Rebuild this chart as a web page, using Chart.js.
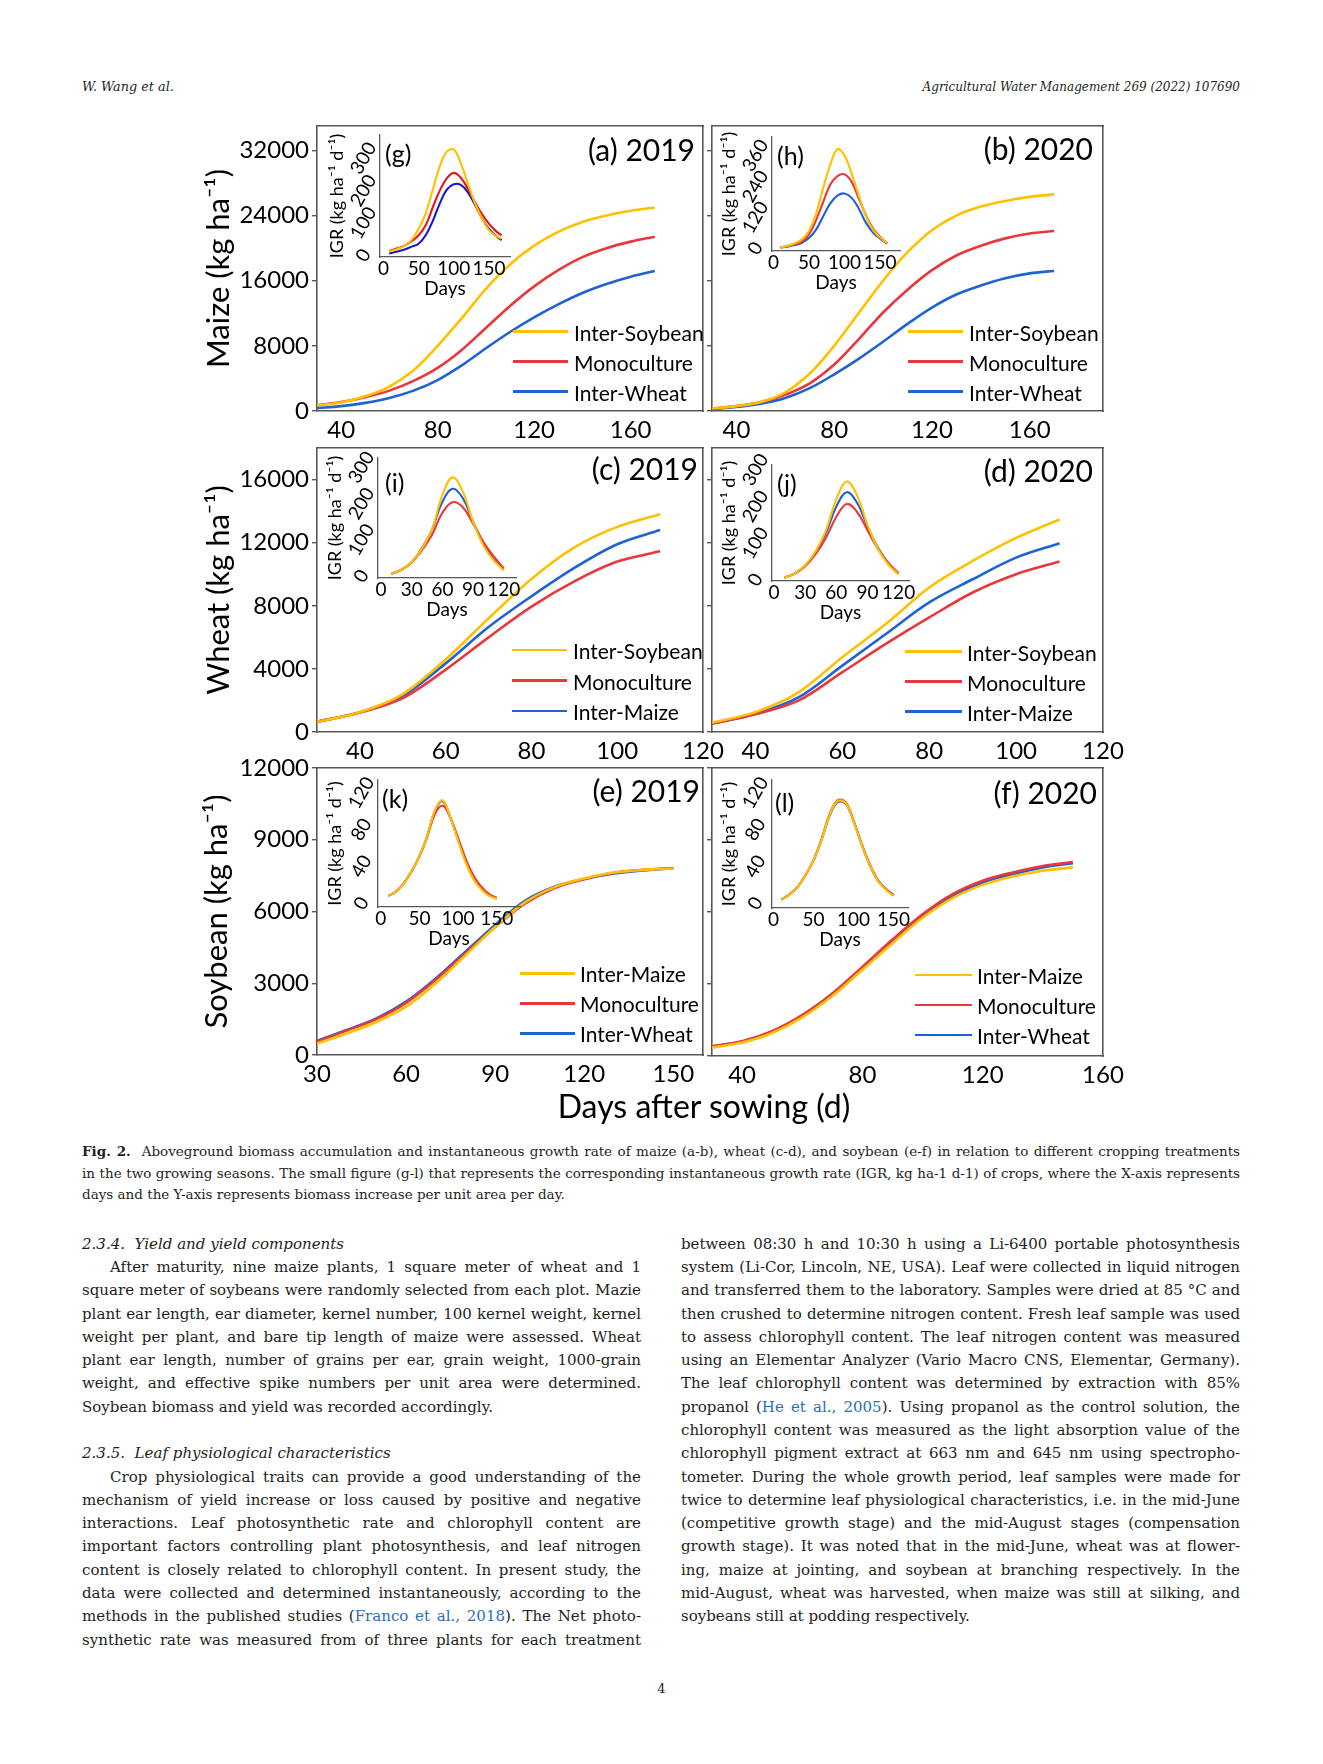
<!DOCTYPE html>
<html><head><meta charset="utf-8">
<script src="https://cdn.jsdelivr.net/npm/chart.js@4.4.1/dist/chart.umd.min.js"></script>
<style>
html,body{margin:0;padding:0;background:#fff;}
#page{position:relative;width:1323px;height:1764px;overflow:hidden;background:#fff;}
.t{position:absolute;white-space:nowrap;}
.fig{font-family:Lato,'DejaVu Sans',sans-serif;color:#000;}
.serif{font-family:'DejaVu Serif','Liberation Serif',serif;color:#231f20;}
.lk{color:#2a6ebb;}
</style></head>
<body><div id="page"></div>
<script>
// ---------------- DATA ----------------
const maizeDays = [30,40,50,60,70,80,90,100,110,120,130,140,150,160,170];
const maize2019InterSoybean = [700,1050,1800,3000,5000,8000,11400,15000,18000,20300,22000,23200,24000,24600,25000];
const maize2019Monoculture  = [700,1100,1700,2500,3700,5300,7500,10200,12900,15300,17300,18900,20000,20800,21400];
const maize2019InterWheat   = [350,600,1000,1600,2500,3800,5600,7700,9700,11500,13100,14500,15600,16500,17200];
const maize2020InterSoybean = [300,600,1100,2300,4600,8000,12000,16000,19500,22200,24000,25100,25800,26300,26600];
const maize2020Monoculture  = [300,600,1100,2000,3400,5700,8800,12100,14900,17300,19100,20300,21200,21800,22100];
const maize2020InterWheat   = [250,500,900,1600,2800,4500,6400,8500,10700,12700,14300,15400,16300,16900,17200];

const wheatDays = [30,40,50,60,70,80,90,100,110];
const wheat2019InterSoybean = [650,1250,2400,4600,7200,9700,11700,13000,13800];
const wheat2019Monoculture  = [650,1230,2150,3950,6000,7950,9550,10800,11450];
const wheat2019InterMaize   = [650,1250,2300,4350,6650,8600,10400,11900,12800];
const wheat2020InterSoybean = [590,1260,2530,4740,6840,9160,10840,12300,13470];
const wheat2020Monoculture  = [530,1120,2000,3790,5580,7260,8840,10000,10800];
const wheat2020InterMaize   = [530,1160,2210,4210,6210,8210,9680,11050,11960];

const soyDays = [30,40,50,60,70,80,90,100,110,120,130,140,150];
const soy2019InterMaize   = [480,900,1380,2020,3000,4170,5350,6380,7020,7380,7630,7740,7800];
const soy2019Monoculture  = [560,1020,1500,2180,3150,4250,5350,6330,6980,7350,7620,7740,7820];
const soy2019InterWheat   = [590,1050,1530,2230,3200,4320,5440,6450,7040,7360,7590,7720,7810];
const soy2020InterMaize   = [350,560,960,1610,2500,3590,4700,5760,6580,7130,7480,7720,7860];
const soy2020Monoculture  = [400,610,1030,1700,2600,3710,4850,5900,6740,7300,7650,7920,8080];
const soy2020InterWheat   = [390,600,1020,1690,2580,3670,4790,5830,6670,7230,7580,7860,8030];

// instantaneous growth rate (insets)
const igrMaize2019Days = [8,20,30,40,50,60,70,80,90,100,110,120,130,140,150,160,168];
const igrMaize2019InterSoybean = [12,20,30,48,83,130,202,275,320,327,285,222,162,115,78,60,52];
const igrMaize2019Monoculture  = [13,22,30,44,62,93,148,200,238,255,240,206,165,128,98,75,62];
const igrMaize2019InterWheat   = [6,12,18,27,36,62,106,160,203,220,218,195,157,115,82,60,47];

const igrMaize2020Days = [10,20,30,40,50,60,70,80,90,100,110,120,130,140,150,160];
const igrMaize2020InterSoybean = [4,10,20,35,68,135,235,325,385,360,290,206,125,72,42,20];
const igrMaize2020Monoculture  = [4,9,16,26,54,110,180,248,280,287,258,194,129,77,45,19];
const igrMaize2020InterWheat   = [3,7,13,22,40,73,125,175,205,213,196,155,100,62,38,19];

const igrWheatDays = [10,20,30,40,50,60,70,80,90,100,110,120];
const igrWheat2019InterSoybean = [6,18,39,76,131,224,273,233,150,85,44,16];
const igrWheat2019Monoculture  = [6,18,38,72,115,175,204,190,145,95,55,22];
const igrWheat2019InterMaize   = [6,18,39,78,130,205,241,215,150,92,50,20];
const igrWheat2020InterSoybean = [6,18,40,78,135,220,268,230,150,85,42,15];
const igrWheat2020Monoculture  = [6,17,37,70,115,172,207,185,135,85,46,18];
const igrWheat2020InterMaize   = [6,18,39,76,128,200,239,210,145,88,46,17];

const igrSoyDays = [10,20,30,40,50,60,70,80,90,100,110,120,130,140,150];
const igrSoy2019InterMaize  = [8,13,22,35,51,73,101,112,93,68,44,26,15,8,5];
const igrSoy2019Monoculture = [8,13,22,35,51,72,97,106,93,71,48,30,18,10,6];
const igrSoy2019InterWheat  = [8,13,22,35,51,73,100,111,93,69,45,27,16,9,5];
const igrSoy2020InterMaize  = [4,10,18,31,47,69,96,111,109,89,64,42,25,15,8];
const igrSoy2020Monoculture = [4,10,18,31,47,70,97,112,110,90,65,43,26,16,9];
const igrSoy2020InterWheat  = [4,10,18,31,47,69,95,110,108,89,64,42,25,16,9];

// tick labels
const maizeYTicks = [0,8000,16000,24000,32000];
const wheatYTicks = [0,4000,8000,12000,16000];
const soyYTicks = [0,3000,6000,9000,12000];
const maizeXTicks = [40,80,120,160];
const wheatXTicks = [40,60,80,100,120];
const soy2019XTicks = [30,60,90,120,150];
const soy2020XTicks = [40,80,120,160];
const igrXTicks150 = [0,50,100,150];
const igrXTicks120 = [0,30,60,90,120];
const igrMaize2019YTicks = [0,100,200,300];
const igrMaize2020YTicks = [0,120,240,360];
const igrWheatYTicks = [0,100,200,300];
const igrSoyYTicks = [0,40,80,120];

// ---------------- RENDERING ----------------
const page = document.getElementById('page');
const FIG_FONT = "Lato, 'DejaVu Sans', sans-serif";
const AXIS = '#575757';
const YEL = '#FFC000', RED = '#E8383D', BLU = '#1F62D2';
const RED_G = '#E8141E', BLU_G = '#1818C8';

function mkCanvas(left, top, w, h){
  const c = document.createElement('canvas');
  c.width = w; c.height = h;
  Object.assign(c.style, {position:'absolute', left:left+'px', top:top+'px', width:w+'px', height:h+'px'});
  page.appendChild(c);
  return c;
}
function setTicks(arr){ return s => { s.ticks = arr.map(v => ({value:v})); }; }

function mainPanel(cfg){
  const L=Math.round(cfg.L), T=Math.round(cfg.T), R=Math.round(cfg.R), B=Math.round(cfg.B);
  const padL=cfg.padL, padT=22, padR=32, padB=45;
  const left=L-padL, top=T-padT, w=R-L+padL+padR, h=B-T+padT+padB;
  const cv = mkCanvas(left, top, w, h);
  const tickFont = {family:FIG_FONT, size:24};
  const sideScale = (pos) => ({
    type:'linear', position:pos,
    min: pos==='top'?cfg.xMin:cfg.yMin, max: pos==='top'?cfg.xMax:cfg.yMax,
    ticks:{display:false}, grid:{display:false, drawTicks:false},
    border:{display:true, color:AXIS, width:1.6},
    afterFit: s => { if (pos==='top') s.height=0; else s.width=0; }
  });
  new Chart(cv, {
    type:'line',
    data:{datasets: cfg.series.map(s => ({
      label:s.label,
      data: cfg.days.map((d,i)=>({x:d, y:s.values[i]})),
      borderColor:s.color, backgroundColor:s.color, borderWidth:2.6,
      pointRadius:0, fill:false, cubicInterpolationMode:'monotone'
    }))},
    options:{
      responsive:false, animation:false, devicePixelRatio:1, events:[],
      layout:{padding:{left:0, top:padT, right:padR, bottom:0}, autoPadding:false},
      plugins:{legend:{display:false}, tooltip:{enabled:false}, title:{display:false}},
      scales:{
        x:{type:'linear', position:'bottom', min:cfg.xMin, max:cfg.xMax,
           afterBuildTicks:setTicks(cfg.xTicks),
           afterFit: s => { s.height = padB; },
           grid:{display:false, drawTicks:false},
           border:{display:true, color:AXIS, width:1.6},
           ticks:{font:tickFont, color:'#000', padding:5, maxRotation:0, minRotation:0, autoSkip:false, callback:v=>String(v)}},
        y:{type:'linear', position:'left', min:cfg.yMin, max:cfg.yMax,
           afterBuildTicks:setTicks(cfg.yTicks),
           afterFit: s => { s.width = padL; },
           grid:{display:true, drawOnChartArea:false, drawTicks:true, tickLength:5, color:AXIS, lineWidth:1.4},
           border:{display:true, color:AXIS, width:1.6},
           ticks:{display:cfg.showY, font:tickFont, color:'#000', padding:3, autoSkip:false, callback:v=>String(v)},
           title:{display:!!cfg.yTitle, text:cfg.yTitle||'', font:{family:FIG_FONT, size:31}, color:'#000', padding:{top:cfg.titlePad||0, bottom:0}}},
        x2: sideScale('top'),
        y2: sideScale('right')
      }
    }
  });
}

function insetPanel(cfg){
  const L=Math.round(cfg.L), T=Math.round(cfg.T), R=Math.round(cfg.R), B=Math.round(cfg.B);
  const padL=56, padT=12, padR=26, padB=46;
  const left=L-padL, top=T-padT, w=R-L+padL+padR, h=B-T+padT+padB;
  const cv = mkCanvas(left, top, w, h);
  const tf = {family:FIG_FONT, size:19};
  new Chart(cv, {
    type:'line',
    data:{datasets: cfg.series.map(s => ({
      label:s.label,
      data: cfg.days.map((d,i)=>({x:d, y:s.values[i]})),
      borderColor:s.color, backgroundColor:s.color, borderWidth:2.1,
      pointRadius:0, fill:false, tension:0.4
    }))},
    options:{
      responsive:false, animation:false, devicePixelRatio:1, events:[],
      layout:{padding:{left:0, top:padT, right:padR, bottom:0}, autoPadding:false},
      plugins:{legend:{display:false}, tooltip:{enabled:false}},
      scales:{
        x:{type:'linear', position:'bottom', min:cfg.xMin, max:cfg.xMax,
           afterBuildTicks:setTicks(cfg.xTicks),
           afterFit: s => { s.height = padB; },
           grid:{display:false, drawTicks:false},
           border:{display:true, color:AXIS, width:1.3},
           ticks:{font:tf, color:'#000', padding:0, maxRotation:0, minRotation:0, autoSkip:false, callback:v=>String(v)},
           title:{display:true, text:'Days', font:tf, color:'#000', padding:{top:0, bottom:3}}},
        y:{type:'linear', position:'left', min:cfg.yMin, max:cfg.yMax,
           afterBuildTicks:setTicks(cfg.yTicks),
           afterFit: s => { s.width = padL; },
           grid:{display:false, drawTicks:false},
           border:{display:true, color:AXIS, width:1.3},
           ticks:{font:tf, color:'#000', padding:0, minRotation:60, maxRotation:60, crossAlign:'center', autoSkip:false, callback:v=>String(v)},
           title:{display:true, text:'IGR (kg ha\u207B\u00B9 d\u207B\u00B9)', font:{family:FIG_FONT, size:18}, color:'#000', padding:{top:2, bottom:0}}}
      }
    }
  });
}

function text(html, x, y, cls, size, align, extra){
  const d = document.createElement('div');
  d.className = 't ' + cls;
  d.innerHTML = html;
  d.style.fontSize = size + 'px';
  d.style.lineHeight = '1';
  d.style.left = x + 'px';
  d.style.top = y + 'px';
  const tx = align==='r' ? '-100%' : align==='c' ? '-50%' : '0';
  d.style.transform = 'translate(' + tx + ',-50%)';
  if (extra) Object.assign(d.style, extra);
  page.appendChild(d);
  return d;
}

function legend(items, x1, x2, xt, ys){
  items.forEach((it, i) => {
    const ln = document.createElement('div');
    Object.assign(ln.style, {position:'absolute', left:x1+'px', top:(ys[i]-1.3)+'px', width:(x2-x1)+'px', height:'2.6px', background:it.color});
    page.appendChild(ln);
    text(it.label, xt, ys[i], 'fig', 21, 'l');
  });
}

// ---- main panels ----
const sMaize19 = [{label:'Inter-Soybean',values:maize2019InterSoybean,color:YEL},{label:'Monoculture',values:maize2019Monoculture,color:RED},{label:'Inter-Wheat',values:maize2019InterWheat,color:BLU}];
const sMaize20 = [{label:'Inter-Soybean',values:maize2020InterSoybean,color:YEL},{label:'Monoculture',values:maize2020Monoculture,color:RED},{label:'Inter-Wheat',values:maize2020InterWheat,color:BLU}];
const sWheat19 = [{label:'Inter-Soybean',values:wheat2019InterSoybean,color:YEL},{label:'Monoculture',values:wheat2019Monoculture,color:RED},{label:'Inter-Maize',values:wheat2019InterMaize,color:BLU}];
const sWheat20 = [{label:'Inter-Soybean',values:wheat2020InterSoybean,color:YEL},{label:'Monoculture',values:wheat2020Monoculture,color:RED},{label:'Inter-Maize',values:wheat2020InterMaize,color:BLU}];
const sSoy19 = [{label:'Inter-Maize',values:soy2019InterMaize,color:YEL},{label:'Monoculture',values:soy2019Monoculture,color:RED},{label:'Inter-Wheat',values:soy2019InterWheat,color:BLU}];
const sSoy20 = [{label:'Inter-Maize',values:soy2020InterMaize,color:YEL},{label:'Monoculture',values:soy2020Monoculture,color:RED},{label:'Inter-Wheat',values:soy2020InterWheat,color:BLU}];

mainPanel({L:317,T:126,R:703,B:411,padL:137,xMin:30,xMax:190,yMin:0,yMax:35000,xTicks:maizeXTicks,yTicks:maizeYTicks,showY:true,yTitle:'Maize (kg ha\u207B\u00B9)',titlePad:20.4,days:maizeDays,series:sMaize19});
mainPanel({L:712,T:126,R:1103,B:411,padL:20,xMin:30,xMax:190,yMin:0,yMax:35000,xTicks:maizeXTicks,yTicks:maizeYTicks,showY:false,days:maizeDays,series:sMaize20});
mainPanel({L:317,T:448,R:703,B:732,padL:137,xMin:30,xMax:120,yMin:0,yMax:18000,xTicks:wheatXTicks,yTicks:wheatYTicks,showY:true,yTitle:'Wheat (kg ha\u207B\u00B9)',titlePad:20.4,days:wheatDays,series:sWheat19});
mainPanel({L:712,T:448,R:1103,B:732,padL:20,xMin:30,xMax:120,yMin:0,yMax:18000,xTicks:wheatXTicks,yTicks:wheatYTicks,showY:false,days:wheatDays,series:sWheat20});
mainPanel({L:317,T:768,R:703,B:1055,padL:137,xMin:30,xMax:160,yMin:0,yMax:12000,xTicks:soy2019XTicks,yTicks:soyYTicks,showY:true,yTitle:'Soybean (kg ha\u207B\u00B9)',titlePad:18.4,days:soyDays,series:sSoy19});
mainPanel({L:712,T:768,R:1103,B:1056,padL:20,xMin:30,xMax:160,yMin:0,yMax:12000,xTicks:soy2020XTicks,yTicks:soyYTicks,showY:false,days:soyDays,series:sSoy20});

// ---- insets ----
insetPanel({L:380,T:135,R:509.5,B:256.7,xMin:-5,xMax:180,yMin:-5,yMax:372,xTicks:igrXTicks150,yTicks:igrMaize2019YTicks,days:igrMaize2019Days,
  series:[{label:'Inter-Soybean',values:igrMaize2019InterSoybean,color:YEL},{label:'Monoculture',values:igrMaize2019Monoculture,color:RED_G},{label:'Inter-Wheat',values:igrMaize2019InterWheat,color:BLU_G}]});
insetPanel({L:771.7,T:136.7,R:899.5,B:251,xMin:-2,xMax:178,yMin:-10,yMax:432,xTicks:igrXTicks150,yTicks:igrMaize2020YTicks,days:igrMaize2020Days,
  series:[{label:'Inter-Soybean',values:igrMaize2020InterSoybean,color:YEL},{label:'Monoculture',values:igrMaize2020Monoculture,color:RED},{label:'Inter-Wheat',values:igrMaize2020InterWheat,color:BLU}]});
insetPanel({L:378.3,T:458.3,R:515.6,B:577.7,xMin:-3,xMax:132,yMin:-5,yMax:326,xTicks:igrXTicks120,yTicks:igrWheatYTicks,days:igrWheatDays,
  series:[{label:'Inter-Soybean',values:igrWheat2019InterSoybean,color:YEL},{label:'Monoculture',values:igrWheat2019Monoculture,color:RED},{label:'Inter-Maize',values:igrWheat2019InterMaize,color:BLU}]});
insetPanel({L:771.7,T:465,R:909,B:581,xMin:-2,xMax:130,yMin:-3,yMax:313,xTicks:igrXTicks120,yTicks:igrWheatYTicks,days:igrWheatDays,
  series:[{label:'Inter-Soybean',values:igrWheat2020InterSoybean,color:YEL},{label:'Monoculture',values:igrWheat2020Monoculture,color:RED},{label:'Inter-Maize',values:igrWheat2020InterMaize,color:BLU}]});
insetPanel({L:378.3,T:780,R:519.6,B:906.7,xMin:-3.5,xMax:180,yMin:-4,yMax:134,xTicks:igrXTicks150,yTicks:igrSoyYTicks,days:igrSoyDays,
  series:[{label:'Inter-Maize',values:igrSoy2019InterMaize,color:YEL},{label:'Monoculture',values:igrSoy2019Monoculture,color:RED},{label:'Inter-Wheat',values:igrSoy2019InterWheat,color:BLU}]});
insetPanel({L:771.7,T:780,R:907.7,B:907.7,xMin:-2,xMax:168,yMin:-5,yMax:134,xTicks:igrXTicks150,yTicks:igrSoyYTicks,days:igrSoyDays,
  series:[{label:'Inter-Maize',values:igrSoy2020InterMaize,color:YEL},{label:'Monoculture',values:igrSoy2020Monoculture,color:RED},{label:'Inter-Wheat',values:igrSoy2020InterWheat,color:BLU}]});

// ---- panel labels ----
text('(a) 2019', 695, 149.3, 'fig', 30, 'r');
text('(b) 2020', 1093, 148.3, 'fig', 30, 'r');
text('(c) 2019', 698, 468.3, 'fig', 30, 'r');
text('(d) 2020', 1093, 470, 'fig', 30, 'r');
text('(e) 2019', 700, 790, 'fig', 30, 'r');
text('(f) 2020', 1097, 791.7, 'fig', 30, 'r');
text('(g)', 385, 153.3, 'fig', 25, 'l');
text('(h)', 777, 155, 'fig', 25, 'l');
text('(i)', 385, 481.7, 'fig', 25, 'l');
text('(j)', 777, 483.3, 'fig', 25, 'l');
text('(k)', 382, 798.3, 'fig', 25, 'l');
text('(l)', 775, 801.7, 'fig', 25, 'l');
text('Days after sowing (d)', 704, 1106, 'fig', 32, 'c');

// ---- legends ----
legend(sMaize19, 513, 568, 574, [331.7,361.7,391.7]);
legend(sMaize20, 908, 963, 969, [331.7,361.7,391.7]);
legend(sWheat19, 512, 567, 573, [650,680.7,711]);
legend(sWheat20, 905, 962, 967, [651.7,681.7,711.7]);
legend(sSoy19, 520, 575, 580, [973.3,1003.3,1033.3]);
legend(sSoy20, 915, 972, 977, [975,1005,1035]);

// ---- page text ----
text('<i>W. Wang et al.</i>', 82, 86.6, 'serif', 12.8, 'l');
text('<i>Agricultural Water Management 269 (2022) 107690</i>', 1240, 86.6, 'serif', 12, 'r');
text('4', 661.5, 1687.5, 'serif', 13, 'c');

function natWidth(html, size){
  const s = document.createElement('span');
  s.className = 'serif';
  Object.assign(s.style, {position:'absolute', left:'0px', top:'0px', visibility:'hidden', whiteSpace:'nowrap', fontSize:size+'px'});
  s.innerHTML = html;
  page.appendChild(s);
  const w = s.getBoundingClientRect().width;
  page.removeChild(s);
  return w;
}
function block(lines, x, width, firstCenter, lh, maxSize){
  let ratio = Infinity;
  lines.forEach(l => { if (l && l.j) { const w = natWidth(l.h, 20); ratio = Math.min(ratio, (width - (l.ind||0)) / w); } });
  const fs = Math.min(maxSize, 20 * ratio * 0.995);
  lines.forEach((l, i) => {
    if (!l) return;
    const avail = width - (l.ind||0);
    const d = document.createElement('div');
    d.className = 'serif';
    d.innerHTML = l.h;
    Object.assign(d.style, {position:'absolute', left:(x + (l.ind||0))+'px', width:avail+'px',
      top:(firstCenter + i*lh - lh/2)+'px', height:lh+'px', lineHeight:lh+'px', fontSize:fs+'px',
      textAlign:'justify', textAlignLast: l.j ? 'justify' : 'left', whiteSpace:'nowrap', overflow:'visible'});
    const nat = natWidth(l.h, fs);
    if (nat > avail - 1) {
      const n = d.textContent.length;
      d.style.letterSpacing = ((avail - 1 - nat) / n) + 'px';
    }
    page.appendChild(d);
  });
}

const captionLines = [
  {h:'<b>Fig. 2.</b>&nbsp; Aboveground biomass accumulation and instantaneous growth rate of maize (a-b), wheat (c-d), and soybean (e-f) in relation to different cropping treatments', j:true},
  {h:'in the two growing seasons. The small figure (g-l) that represents the corresponding instantaneous growth rate (IGR, kg ha-1 d-1) of crops, where the X-axis represents', j:true},
  {h:'days and the Y-axis represents biomass increase per unit area per day.', j:false}
];
block(captionLines, 82, 1158, 1152, 21.4, 14.2);

const leftCol = [
  {h:'<i>2.3.4.&nbsp;&nbsp;Yield and yield components</i>', j:false},
  {h:'After maturity, nine maize plants, 1 square meter of wheat and 1', j:true, ind:28},
  {h:'square meter of soybeans were randomly selected from each plot. Mazie', j:true},
  {h:'plant ear length, ear diameter, kernel number, 100 kernel weight, kernel', j:true},
  {h:'weight per plant, and bare tip length of maize were assessed. Wheat', j:true},
  {h:'plant ear length, number of grains per ear, grain weight, 1000-grain', j:true},
  {h:'weight, and effective spike numbers per unit area were determined.', j:true},
  {h:'Soybean biomass and yield was recorded accordingly.', j:false},
  null,
  {h:'<i>2.3.5.&nbsp;&nbsp;Leaf physiological characteristics</i>', j:false},
  {h:'Crop physiological traits can provide a good understanding of the', j:true, ind:28},
  {h:'mechanism of yield increase or loss caused by positive and negative', j:true},
  {h:'interactions. Leaf photosynthetic rate and chlorophyll content are', j:true},
  {h:'important factors controlling plant photosynthesis, and leaf nitrogen', j:true},
  {h:'content is closely related to chlorophyll content. In present study, the', j:true},
  {h:'data were collected and determined instantaneously, according to the', j:true},
  {h:'methods in the published studies (<span class="lk">Franco et al., 2018</span>). The Net photo-', j:true},
  {h:'synthetic rate was measured from of three plants for each treatment', j:true}
];
const rightCol = [
  {h:'between 08:30 h and 10:30 h using a Li-6400 portable photosynthesis', j:true},
  {h:'system (Li-Cor, Lincoln, NE, USA). Leaf were collected in liquid nitrogen', j:true},
  {h:'and transferred them to the laboratory. Samples were dried at 85 \u00B0C and', j:true},
  {h:'then crushed to determine nitrogen content. Fresh leaf sample was used', j:true},
  {h:'to assess chlorophyll content. The leaf nitrogen content was measured', j:true},
  {h:'using an Elementar Analyzer (Vario Macro CNS, Elementar, Germany).', j:true},
  {h:'The leaf chlorophyll content was determined by extraction with 85%', j:true},
  {h:'propanol (<span class="lk">He et al., 2005</span>). Using propanol as the control solution, the', j:true},
  {h:'chlorophyll content was measured as the light absorption value of the', j:true},
  {h:'chlorophyll pigment extract at 663 nm and 645 nm using spectropho-', j:true},
  {h:'tometer. During the whole growth period, leaf samples were made for', j:true},
  {h:'twice to determine leaf physiological characteristics, i.e. in the mid-June', j:true},
  {h:'(competitive growth stage) and the mid-August stages (compensation', j:true},
  {h:'growth stage). It was noted that in the mid-June, wheat was at flower-', j:true},
  {h:'ing, maize at jointing, and soybean at branching respectively. In the', j:true},
  {h:'mid-August, wheat was harvested, when maize was still at silking, and', j:true},
  {h:'soybeans still at podding respectively.', j:false}
];
block(leftCol, 82, 559, 1244.3, 23.29, 15.6);
block(rightCol, 681, 559, 1244.3, 23.29, 15.6);
</script>
</body></html>
